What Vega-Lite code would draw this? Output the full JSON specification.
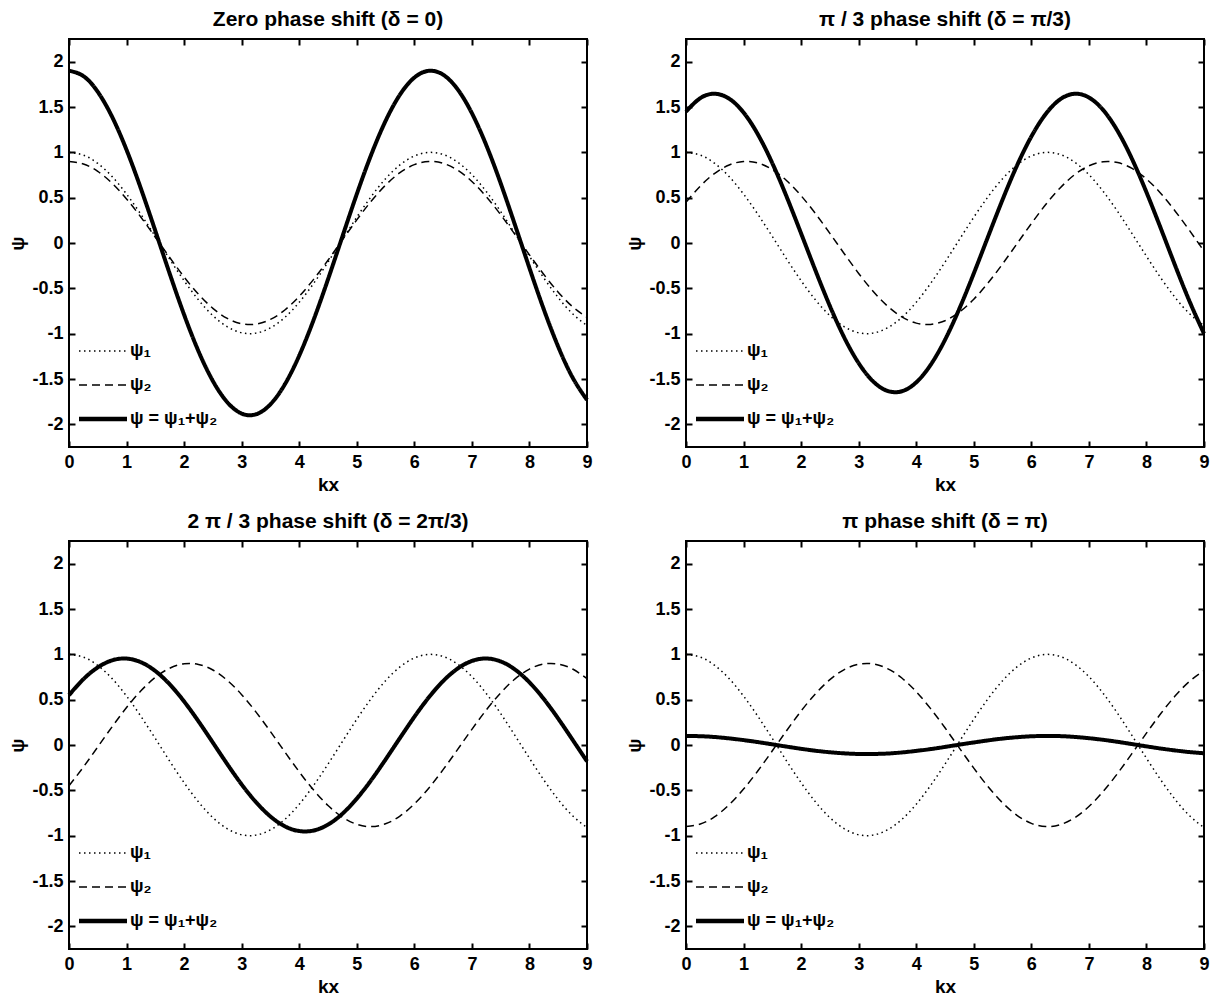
{
  "$schema": "https://vega.github.io/schema/vega-lite/v6.json",
  "padding": {"left": 7, "top": 8, "right": 5, "bottom": 0},
  "background": "white",
  "config": {
    "font": "Liberation Sans",
    "view": {"stroke": "black", "strokeWidth": 2},
    "axis": {
      "domain": false, "grid": false, "ticks": true, "tickSize": -6, "tickWidth": 2, "tickColor": "black",
      "labelFont": "Liberation Sans", "labelFontSize": 18, "labelFontWeight": "bold", "labelColor": "black",
      "labelPadding": 12, "labelFlush": false,
      "titleFont": "Liberation Sans", "titleFontSize": 19, "titleFontWeight": "bold", "titleColor": "black"
    },
    "title": {"font": "Liberation Sans", "fontSize": 21, "fontWeight": "bold", "color": "black", "offset": 8},
    "legend": {
      "orient": "none", "legendX": 9, "legendY": 287, "padding": 0, "symbolType": "stroke", "symbolSize": 2304,
      "symbolStrokeColor": "black", "labelFont": "Liberation Sans", "labelFontSize": 18, "labelFontWeight": "bold",
      "labelColor": "black", "rowPadding": -20, "labelOffset": 2
    }
  },
  "datasets": {
    "w": [
      {"p":1,"kx":0,"psi1":1,"psi2":0.9,"psi":1.9},
      {"p":1,"kx":0.25,"psi1":0.969,"psi2":0.872,"psi":1.841},
      {"p":1,"kx":0.5,"psi1":0.878,"psi2":0.790,"psi":1.667},
      {"p":1,"kx":0.75,"psi1":0.732,"psi2":0.659,"psi":1.390},
      {"p":1,"kx":1,"psi1":0.540,"psi2":0.486,"psi":1.027},
      {"p":1,"kx":1.25,"psi1":0.315,"psi2":0.284,"psi":0.599},
      {"p":1,"kx":1.5,"psi1":0.071,"psi2":0.064,"psi":0.134},
      {"p":1,"kx":1.75,"psi1":-0.178,"psi2":-0.160,"psi":-0.339},
      {"p":1,"kx":2,"psi1":-0.416,"psi2":-0.375,"psi":-0.791},
      {"p":1,"kx":2.25,"psi1":-0.628,"psi2":-0.565,"psi":-1.194},
      {"p":1,"kx":2.5,"psi1":-0.801,"psi2":-0.721,"psi":-1.522},
      {"p":1,"kx":2.75,"psi1":-0.924,"psi2":-0.832,"psi":-1.756},
      {"p":1,"kx":3,"psi1":-0.990,"psi2":-0.891,"psi":-1.881},
      {"p":1,"kx":3.25,"psi1":-0.994,"psi2":-0.895,"psi":-1.889},
      {"p":1,"kx":3.5,"psi1":-0.936,"psi2":-0.843,"psi":-1.779},
      {"p":1,"kx":3.75,"psi1":-0.821,"psi2":-0.739,"psi":-1.559},
      {"p":1,"kx":4,"psi1":-0.654,"psi2":-0.588,"psi":-1.242},
      {"p":1,"kx":4.25,"psi1":-0.446,"psi2":-0.401,"psi":-0.848},
      {"p":1,"kx":4.5,"psi1":-0.211,"psi2":-0.190,"psi":-0.401},
      {"p":1,"kx":4.75,"psi1":0.038,"psi2":0.034,"psi":0.071},
      {"p":1,"kx":5,"psi1":0.284,"psi2":0.255,"psi":0.539},
      {"p":1,"kx":5.25,"psi1":0.512,"psi2":0.461,"psi":0.973},
      {"p":1,"kx":5.5,"psi1":0.709,"psi2":0.638,"psi":1.346},
      {"p":1,"kx":5.75,"psi1":0.861,"psi2":0.775,"psi":1.636},
      {"p":1,"kx":6,"psi1":0.960,"psi2":0.864,"psi":1.824},
      {"p":1,"kx":6.25,"psi1":0.999,"psi2":0.900,"psi":1.899},
      {"p":1,"kx":6.5,"psi1":0.977,"psi2":0.879,"psi":1.856},
      {"p":1,"kx":6.75,"psi1":0.893,"psi2":0.804,"psi":1.697},
      {"p":1,"kx":7,"psi1":0.754,"psi2":0.679,"psi":1.432},
      {"p":1,"kx":7.25,"psi1":0.568,"psi2":0.511,"psi":1.079},
      {"p":1,"kx":7.5,"psi1":0.347,"psi2":0.312,"psi":0.659},
      {"p":1,"kx":7.75,"psi1":0.104,"psi2":0.093,"psi":0.197},
      {"p":1,"kx":8,"psi1":-0.146,"psi2":-0.131,"psi":-0.276},
      {"p":1,"kx":8.25,"psi1":-0.386,"psi2":-0.347,"psi":-0.733},
      {"p":1,"kx":8.5,"psi1":-0.602,"psi2":-0.542,"psi":-1.144},
      {"p":1,"kx":8.75,"psi1":-0.781,"psi2":-0.703,"psi":-1.484},
      {"p":1,"kx":9,"psi1":-0.911,"psi2":-0.820,"psi":-1.731},

      {"p":2,"kx":0,"psi1":1,"psi2":0.45,"psi":1.45},
      {"p":2,"kx":0.25,"psi1":0.969,"psi2":0.629,"psi":1.598},
      {"p":2,"kx":0.5,"psi1":0.878,"psi2":0.769,"psi":1.646},
      {"p":2,"kx":0.75,"psi1":0.732,"psi2":0.861,"psi":1.592},
      {"p":2,"kx":1,"psi1":0.540,"psi2":0.899,"psi":1.439},
      {"p":2,"kx":1.25,"psi1":0.315,"psi2":0.882,"psi":1.197},
      {"p":2,"kx":1.5,"psi1":0.071,"psi2":0.809,"psi":0.880},
      {"p":2,"kx":1.75,"psi1":-0.178,"psi2":0.687,"psi":0.508},
      {"p":2,"kx":2,"psi1":-0.416,"psi2":0.521,"psi":0.105},
      {"p":2,"kx":2.25,"psi1":-0.628,"psi2":0.324,"psi":-0.304},
      {"p":2,"kx":2.5,"psi1":-0.801,"psi2":0.106,"psi":-0.695},
      {"p":2,"kx":2.75,"psi1":-0.924,"psi2":-0.118,"psi":-1.043},
      {"p":2,"kx":3,"psi1":-0.990,"psi2":-0.336,"psi":-1.325},
      {"p":2,"kx":3.25,"psi1":-0.994,"psi2":-0.532,"psi":-1.526},
      {"p":2,"kx":3.5,"psi1":-0.936,"psi2":-0.695,"psi":-1.631},
      {"p":2,"kx":3.75,"psi1":-0.821,"psi2":-0.815,"psi":-1.635},
      {"p":2,"kx":4,"psi1":-0.654,"psi2":-0.884,"psi":-1.538},
      {"p":2,"kx":4.25,"psi1":-0.446,"psi2":-0.898,"psi":-1.344},
      {"p":2,"kx":4.5,"psi1":-0.211,"psi2":-0.857,"psi":-1.068},
      {"p":2,"kx":4.75,"psi1":0.038,"psi2":-0.762,"psi":-0.724},
      {"p":2,"kx":5,"psi1":0.284,"psi2":-0.620,"psi":-0.336},
      {"p":2,"kx":5.25,"psi1":0.512,"psi2":-0.439,"psi":0.073},
      {"p":2,"kx":5.5,"psi1":0.709,"psi2":-0.231,"psi":0.478},
      {"p":2,"kx":5.75,"psi1":0.861,"psi2":-0.009,"psi":0.853},
      {"p":2,"kx":6,"psi1":0.960,"psi2":0.214,"psi":1.174},
      {"p":2,"kx":6.25,"psi1":0.999,"psi2":0.424,"psi":1.423},
      {"p":2,"kx":6.5,"psi1":0.977,"psi2":0.607,"psi":1.584},
      {"p":2,"kx":6.75,"psi1":0.893,"psi2":0.753,"psi":1.646},
      {"p":2,"kx":7,"psi1":0.754,"psi2":0.851,"psi":1.605},
      {"p":2,"kx":7.25,"psi1":0.568,"psi2":0.897,"psi":1.465},
      {"p":2,"kx":7.5,"psi1":0.347,"psi2":0.887,"psi":1.234},
      {"p":2,"kx":7.75,"psi1":0.104,"psi2":0.822,"psi":0.926},
      {"p":2,"kx":8,"psi1":-0.146,"psi2":0.706,"psi":0.560},
      {"p":2,"kx":8.25,"psi1":-0.386,"psi2":0.546,"psi":0.160},
      {"p":2,"kx":8.5,"psi1":-0.602,"psi2":0.351,"psi":-0.251},
      {"p":2,"kx":8.75,"psi1":-0.781,"psi2":0.136,"psi":-0.645},
      {"p":2,"kx":9,"psi1":-0.911,"psi2":-0.089,"psi":-1.000},

      {"p":3,"kx":0,"psi1":1,"psi2":-0.45,"psi":0.55},
      {"p":3,"kx":0.25,"psi1":0.969,"psi2":-0.243,"psi":0.726},
      {"p":3,"kx":0.5,"psi1":0.878,"psi2":-0.021,"psi":0.856},
      {"p":3,"kx":0.75,"psi1":0.732,"psi2":0.202,"psi":0.934},
      {"p":3,"kx":1,"psi1":0.540,"psi2":0.413,"psi":0.953},
      {"p":3,"kx":1.25,"psi1":0.315,"psi2":0.598,"psi":0.913},
      {"p":3,"kx":1.5,"psi1":0.071,"psi2":0.746,"psi":0.816},
      {"p":3,"kx":1.75,"psi1":-0.178,"psi2":0.847,"psi":0.669},
      {"p":3,"kx":2,"psi1":-0.416,"psi2":0.896,"psi":0.480},
      {"p":3,"kx":2.25,"psi1":-0.628,"psi2":0.889,"psi":0.261},
      {"p":3,"kx":2.5,"psi1":-0.801,"psi2":0.827,"psi":0.026},
      {"p":3,"kx":2.75,"psi1":-0.924,"psi2":0.713,"psi":-0.211},
      {"p":3,"kx":3,"psi1":-0.990,"psi2":0.555,"psi":-0.435},
      {"p":3,"kx":3.25,"psi1":-0.994,"psi2":0.363,"psi":-0.631},
      {"p":3,"kx":3.5,"psi1":-0.936,"psi2":0.148,"psi":-0.788},
      {"p":3,"kx":3.75,"psi1":-0.821,"psi2":-0.076,"psi":-0.897},
      {"p":3,"kx":4,"psi1":-0.654,"psi2":-0.296,"psi":-0.949},
      {"p":3,"kx":4.25,"psi1":-0.446,"psi2":-0.497,"psi":-0.943},
      {"p":3,"kx":4.5,"psi1":-0.211,"psi2":-0.667,"psi":-0.878},
      {"p":3,"kx":4.75,"psi1":0.038,"psi2":-0.796,"psi":-0.758},
      {"p":3,"kx":5,"psi1":0.284,"psi2":-0.875,"psi":-0.591},
      {"p":3,"kx":5.25,"psi1":0.512,"psi2":-0.900,"psi":-0.388},
      {"p":3,"kx":5.5,"psi1":0.709,"psi2":-0.869,"psi":-0.160},
      {"p":3,"kx":5.75,"psi1":0.861,"psi2":-0.784,"psi":0.077},
      {"p":3,"kx":6,"psi1":0.960,"psi2":-0.650,"psi":0.310},
      {"p":3,"kx":6.25,"psi1":0.999,"psi2":-0.476,"psi":0.524},
      {"p":3,"kx":6.5,"psi1":0.977,"psi2":-0.272,"psi":0.705},
      {"p":3,"kx":6.75,"psi1":0.893,"psi2":-0.051,"psi":0.842},
      {"p":3,"kx":7,"psi1":0.754,"psi2":0.173,"psi":0.927},
      {"p":3,"kx":7.25,"psi1":0.568,"psi2":0.386,"psi":0.954},
      {"p":3,"kx":7.5,"psi1":0.347,"psi2":0.575,"psi":0.922},
      {"p":3,"kx":7.75,"psi1":0.104,"psi2":0.729,"psi":0.832},
      {"p":3,"kx":8,"psi1":-0.146,"psi2":0.837,"psi":0.691},
      {"p":3,"kx":8.25,"psi1":-0.386,"psi2":0.893,"psi":0.507},
      {"p":3,"kx":8.5,"psi1":-0.602,"psi2":0.893,"psi":0.291},
      {"p":3,"kx":8.75,"psi1":-0.781,"psi2":0.838,"psi":0.057},
      {"p":3,"kx":9,"psi1":-0.911,"psi2":0.731,"psi":-0.180},

      {"p":4,"kx":0,"psi1":1,"psi2":-0.9,"psi":0.1},
      {"p":4,"kx":0.25,"psi1":0.969,"psi2":-0.872,"psi":0.097},
      {"p":4,"kx":0.5,"psi1":0.878,"psi2":-0.790,"psi":0.088},
      {"p":4,"kx":0.75,"psi1":0.732,"psi2":-0.659,"psi":0.073},
      {"p":4,"kx":1,"psi1":0.540,"psi2":-0.486,"psi":0.054},
      {"p":4,"kx":1.25,"psi1":0.315,"psi2":-0.284,"psi":0.032},
      {"p":4,"kx":1.5,"psi1":0.071,"psi2":-0.064,"psi":0.007},
      {"p":4,"kx":1.75,"psi1":-0.178,"psi2":0.160,"psi":-0.018},
      {"p":4,"kx":2,"psi1":-0.416,"psi2":0.375,"psi":-0.042},
      {"p":4,"kx":2.25,"psi1":-0.628,"psi2":0.565,"psi":-0.063},
      {"p":4,"kx":2.5,"psi1":-0.801,"psi2":0.721,"psi":-0.080},
      {"p":4,"kx":2.75,"psi1":-0.924,"psi2":0.832,"psi":-0.092},
      {"p":4,"kx":3,"psi1":-0.990,"psi2":0.891,"psi":-0.099},
      {"p":4,"kx":3.25,"psi1":-0.994,"psi2":0.895,"psi":-0.099},
      {"p":4,"kx":3.5,"psi1":-0.936,"psi2":0.843,"psi":-0.094},
      {"p":4,"kx":3.75,"psi1":-0.821,"psi2":0.739,"psi":-0.082},
      {"p":4,"kx":4,"psi1":-0.654,"psi2":0.588,"psi":-0.065},
      {"p":4,"kx":4.25,"psi1":-0.446,"psi2":0.401,"psi":-0.045},
      {"p":4,"kx":4.5,"psi1":-0.211,"psi2":0.190,"psi":-0.021},
      {"p":4,"kx":4.75,"psi1":0.038,"psi2":-0.034,"psi":0.004},
      {"p":4,"kx":5,"psi1":0.284,"psi2":-0.255,"psi":0.028},
      {"p":4,"kx":5.25,"psi1":0.512,"psi2":-0.461,"psi":0.051},
      {"p":4,"kx":5.5,"psi1":0.709,"psi2":-0.638,"psi":0.071},
      {"p":4,"kx":5.75,"psi1":0.861,"psi2":-0.775,"psi":0.086},
      {"p":4,"kx":6,"psi1":0.960,"psi2":-0.864,"psi":0.096},
      {"p":4,"kx":6.25,"psi1":0.999,"psi2":-0.900,"psi":0.100},
      {"p":4,"kx":6.5,"psi1":0.977,"psi2":-0.879,"psi":0.098},
      {"p":4,"kx":6.75,"psi1":0.893,"psi2":-0.804,"psi":0.089},
      {"p":4,"kx":7,"psi1":0.754,"psi2":-0.679,"psi":0.075},
      {"p":4,"kx":7.25,"psi1":0.568,"psi2":-0.511,"psi":0.057},
      {"p":4,"kx":7.5,"psi1":0.347,"psi2":-0.312,"psi":0.035},
      {"p":4,"kx":7.75,"psi1":0.104,"psi2":-0.093,"psi":0.010},
      {"p":4,"kx":8,"psi1":-0.146,"psi2":0.131,"psi":-0.015},
      {"p":4,"kx":8.25,"psi1":-0.386,"psi2":0.347,"psi":-0.039},
      {"p":4,"kx":8.5,"psi1":-0.602,"psi2":0.542,"psi":-0.060},
      {"p":4,"kx":8.75,"psi1":-0.781,"psi2":0.703,"psi":-0.078},
      {"p":4,"kx":9,"psi1":-0.911,"psi2":0.820,"psi":-0.091}
    ]
  },
  "vconcat": [
    {
      "hconcat": [
        {
          "width": 518, "height": 408,
          "title": "Zero phase shift (δ = 0)",
          "data": {"name": "w"},
          "transform": [{"filter": "datum.p == 1"}, {"fold": ["psi1", "psi2", "psi"], "as": ["series", "value"]}],
          "layer": [
            {
              "mark": {"type": "line", "interpolate": "natural", "color": "black", "strokeCap": "butt"},
              "encoding": {
                "x": {"field": "kx", "type": "quantitative", "scale": {"domain": [0, 9], "nice": false, "zero": false}, "axis": {"orient": "bottom", "title": "kx", "values": [0,1,2,3,4,5,6,7,8,9], "labelExpr": "'' + datum.value"}},
                "y": {"field": "value", "type": "quantitative", "scale": {"domain": [-2.25, 2.25], "nice": false, "zero": false}, "axis": {"orient": "left", "title": "ψ", "values": [-2,-1.5,-1,-0.5,0,0.5,1,1.5,2], "labelExpr": "'' + datum.value"}},
                "strokeDash": {"field": "series", "type": "ordinal", "scale": {"domain": ["psi1", "psi2", "psi"], "range": [[1.5, 3.5], [8, 5], [1, 0]]}, "legend": {"title": null, "symbolSize": 2304, "labelExpr": "datum.value == 'psi1' ? 'ψ₁' : datum.value == 'psi2' ? 'ψ₂' : 'ψ = ψ₁+ψ₂'", "encode": {"symbols": {"update": {"size": {"value": 2304}, "strokeWidth": {"signal": "(datum.value == 'psi' ? 4.5 : 1.5)"}}}}}},
                "size": {"condition": {"test": "datum.series == 'psi'", "value": 4}, "value": 1.5}
              }
            },
            {
              "mark": {"type": "point", "opacity": 0},
              "encoding": {
                "x": {"field": "kx", "type": "quantitative", "scale": {"domain": [0, 9], "nice": false, "zero": false}, "axis": {"orient": "top", "title": null, "labels": false, "values": [0,1,2,3,4,5,6,7,8,9]}},
                "y": {"field": "value", "type": "quantitative", "scale": {"domain": [-2.25, 2.25], "nice": false, "zero": false}, "axis": {"orient": "right", "title": null, "labels": false, "values": [-2,-1.5,-1,-0.5,0,0.5,1,1.5,2]}}
              }
            }
          ],
          "resolve": {"axis": {"x": "independent", "y": "independent"}}
        },
        {
          "width": 518, "height": 408,
          "title": "π / 3 phase shift (δ = π/3)",
          "data": {"name": "w"},
          "transform": [{"filter": "datum.p == 2"}, {"fold": ["psi1", "psi2", "psi"], "as": ["series", "value"]}],
          "layer": [
            {
              "mark": {"type": "line", "interpolate": "natural", "color": "black", "strokeCap": "butt"},
              "encoding": {
                "x": {"field": "kx", "type": "quantitative", "scale": {"domain": [0, 9], "nice": false, "zero": false}, "axis": {"orient": "bottom", "title": "kx", "values": [0,1,2,3,4,5,6,7,8,9], "labelExpr": "'' + datum.value"}},
                "y": {"field": "value", "type": "quantitative", "scale": {"domain": [-2.25, 2.25], "nice": false, "zero": false}, "axis": {"orient": "left", "title": "ψ", "values": [-2,-1.5,-1,-0.5,0,0.5,1,1.5,2], "labelExpr": "'' + datum.value"}},
                "strokeDash": {"field": "series", "type": "ordinal", "scale": {"domain": ["psi1", "psi2", "psi"], "range": [[1.5, 3.5], [8, 5], [1, 0]]}, "legend": {"title": null, "symbolSize": 2304, "labelExpr": "datum.value == 'psi1' ? 'ψ₁' : datum.value == 'psi2' ? 'ψ₂' : 'ψ = ψ₁+ψ₂'", "encode": {"symbols": {"update": {"size": {"value": 2304}, "strokeWidth": {"signal": "(datum.value == 'psi' ? 4.5 : 1.5)"}}}}}},
                "size": {"condition": {"test": "datum.series == 'psi'", "value": 4}, "value": 1.5}
              }
            },
            {
              "mark": {"type": "point", "opacity": 0},
              "encoding": {
                "x": {"field": "kx", "type": "quantitative", "scale": {"domain": [0, 9], "nice": false, "zero": false}, "axis": {"orient": "top", "title": null, "labels": false, "values": [0,1,2,3,4,5,6,7,8,9]}},
                "y": {"field": "value", "type": "quantitative", "scale": {"domain": [-2.25, 2.25], "nice": false, "zero": false}, "axis": {"orient": "right", "title": null, "labels": false, "values": [-2,-1.5,-1,-0.5,0,0.5,1,1.5,2]}}
              }
            }
          ],
          "resolve": {"axis": {"x": "independent", "y": "independent"}}
        }
      ],
      "spacing": 28,
      "resolve": {"scale": {"strokeDash": "independent"}, "legend": {"strokeDash": "independent"}}
    },
    {
      "hconcat": [
        {
          "width": 518, "height": 408,
          "title": "2 π / 3 phase shift (δ = 2π/3)",
          "data": {"name": "w"},
          "transform": [{"filter": "datum.p == 3"}, {"fold": ["psi1", "psi2", "psi"], "as": ["series", "value"]}],
          "layer": [
            {
              "mark": {"type": "line", "interpolate": "natural", "color": "black", "strokeCap": "butt"},
              "encoding": {
                "x": {"field": "kx", "type": "quantitative", "scale": {"domain": [0, 9], "nice": false, "zero": false}, "axis": {"orient": "bottom", "title": "kx", "values": [0,1,2,3,4,5,6,7,8,9], "labelExpr": "'' + datum.value"}},
                "y": {"field": "value", "type": "quantitative", "scale": {"domain": [-2.25, 2.25], "nice": false, "zero": false}, "axis": {"orient": "left", "title": "ψ", "values": [-2,-1.5,-1,-0.5,0,0.5,1,1.5,2], "labelExpr": "'' + datum.value"}},
                "strokeDash": {"field": "series", "type": "ordinal", "scale": {"domain": ["psi1", "psi2", "psi"], "range": [[1.5, 3.5], [8, 5], [1, 0]]}, "legend": {"title": null, "symbolSize": 2304, "labelExpr": "datum.value == 'psi1' ? 'ψ₁' : datum.value == 'psi2' ? 'ψ₂' : 'ψ = ψ₁+ψ₂'", "encode": {"symbols": {"update": {"size": {"value": 2304}, "strokeWidth": {"signal": "(datum.value == 'psi' ? 4.5 : 1.5)"}}}}}},
                "size": {"condition": {"test": "datum.series == 'psi'", "value": 4}, "value": 1.5}
              }
            },
            {
              "mark": {"type": "point", "opacity": 0},
              "encoding": {
                "x": {"field": "kx", "type": "quantitative", "scale": {"domain": [0, 9], "nice": false, "zero": false}, "axis": {"orient": "top", "title": null, "labels": false, "values": [0,1,2,3,4,5,6,7,8,9]}},
                "y": {"field": "value", "type": "quantitative", "scale": {"domain": [-2.25, 2.25], "nice": false, "zero": false}, "axis": {"orient": "right", "title": null, "labels": false, "values": [-2,-1.5,-1,-0.5,0,0.5,1,1.5,2]}}
              }
            }
          ],
          "resolve": {"axis": {"x": "independent", "y": "independent"}}
        },
        {
          "width": 518, "height": 408,
          "title": "π phase shift (δ = π)",
          "data": {"name": "w"},
          "transform": [{"filter": "datum.p == 4"}, {"fold": ["psi1", "psi2", "psi"], "as": ["series", "value"]}],
          "layer": [
            {
              "mark": {"type": "line", "interpolate": "natural", "color": "black", "strokeCap": "butt"},
              "encoding": {
                "x": {"field": "kx", "type": "quantitative", "scale": {"domain": [0, 9], "nice": false, "zero": false}, "axis": {"orient": "bottom", "title": "kx", "values": [0,1,2,3,4,5,6,7,8,9], "labelExpr": "'' + datum.value"}},
                "y": {"field": "value", "type": "quantitative", "scale": {"domain": [-2.25, 2.25], "nice": false, "zero": false}, "axis": {"orient": "left", "title": "ψ", "values": [-2,-1.5,-1,-0.5,0,0.5,1,1.5,2], "labelExpr": "'' + datum.value"}},
                "strokeDash": {"field": "series", "type": "ordinal", "scale": {"domain": ["psi1", "psi2", "psi"], "range": [[1.5, 3.5], [8, 5], [1, 0]]}, "legend": {"title": null, "symbolSize": 2304, "labelExpr": "datum.value == 'psi1' ? 'ψ₁' : datum.value == 'psi2' ? 'ψ₂' : 'ψ = ψ₁+ψ₂'", "encode": {"symbols": {"update": {"size": {"value": 2304}, "strokeWidth": {"signal": "(datum.value == 'psi' ? 4.5 : 1.5)"}}}}}},
                "size": {"condition": {"test": "datum.series == 'psi'", "value": 4}, "value": 1.5}
              }
            },
            {
              "mark": {"type": "point", "opacity": 0},
              "encoding": {
                "x": {"field": "kx", "type": "quantitative", "scale": {"domain": [0, 9], "nice": false, "zero": false}, "axis": {"orient": "top", "title": null, "labels": false, "values": [0,1,2,3,4,5,6,7,8,9]}},
                "y": {"field": "value", "type": "quantitative", "scale": {"domain": [-2.25, 2.25], "nice": false, "zero": false}, "axis": {"orient": "right", "title": null, "labels": false, "values": [-2,-1.5,-1,-0.5,0,0.5,1,1.5,2]}}
              }
            }
          ],
          "resolve": {"axis": {"x": "independent", "y": "independent"}}
        }
      ],
      "spacing": 28,
      "resolve": {"scale": {"strokeDash": "independent"}, "legend": {"strokeDash": "independent"}}
    }
  ],
  "spacing": 15,
  "resolve": {"scale": {"strokeDash": "independent"}, "legend": {"strokeDash": "independent"}}
}
